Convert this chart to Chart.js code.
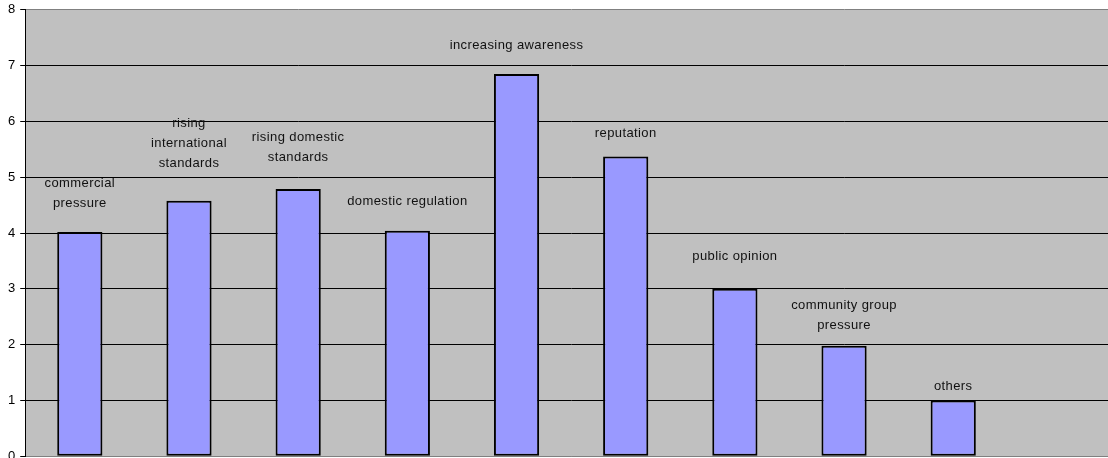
<!DOCTYPE html>
<html>
<head>
<meta charset="utf-8">
<script src="https://cdn.jsdelivr.net/npm/chart.js@4/dist/chart.umd.min.js"></script>
<style>
  html, body { margin: 0; padding: 0; background: #fff; overflow: hidden; }
  #wrap { width: 1117px; height: 472px; margin-top: -3px; }
</style>
</head>
<body>
<div id="wrap"><canvas id="drivers" width="1117" height="472"></canvas></div>
<script>
// drivers and their scores (last slot left empty)
const categories = [
  ['commercial', 'pressure'],
  ['rising', 'international', 'standards'],
  ['rising domestic', 'standards'],
  ['domestic regulation'],
  ['increasing awareness'],
  ['reputation'],
  ['public opinion'],
  ['community group', 'pressure'],
  ['others'],
  ''
];
const scores = [4.02, 4.58, 4.79, 4.04, 6.85, 5.37, 3.0, 1.98, 1.0, null];
const yTicks = [0, 1, 2, 3, 4, 5, 6, 7, 8];

// grey plot area behind the bars
const plotBackground = {
  id: 'plotBackground',
  beforeDraw(chart) {
    const { ctx, chartArea: a } = chart;
    ctx.save();
    ctx.fillStyle = '#c0c0c0';
    ctx.fillRect(a.left, a.top, a.right - a.left, a.bottom - a.top);
    ctx.restore();
  }
};

// category names written above each bar
const barCaptions = {
  id: 'barCaptions',
  afterDatasetsDraw(chart, args, opts) {
    const { ctx } = chart;
    const bars = chart.getDatasetMeta(0).data;
    ctx.save();
    ctx.font = '13px "Liberation Sans", Arial, sans-serif';
    ctx.letterSpacing = '0.4px';
    ctx.fillStyle = '#111';
    ctx.textAlign = 'center';
    ctx.textBaseline = 'middle';
    bars.forEach((bar, i) => {
      const lines = categories[i];
      if (!lines || scores[i] == null) return;
      const n = lines.length;
      lines.forEach((txt, j) => {
        const y = bar.y - opts.lift[i] - (n - 1 - j) * opts.lineHeight;
        ctx.fillText(txt, bar.x, y);
      });
    });
    ctx.restore();
  }
};

new Chart(document.getElementById('drivers'), {
  type: 'bar',
  data: {
    labels: categories,
    datasets: [{
      data: scores,
      backgroundColor: '#9999ff',
      borderColor: '#000',
      borderWidth: 2,
      borderSkipped: false,
      barPercentage: 0.414,
      categoryPercentage: 1
    }]
  },
  options: {
    responsive: false,
    animation: false,
    events: [],
    layout: { padding: { left: 3, top: 7, right: 0, bottom: 0 } },
    plugins: {
      legend: { display: false },
      tooltip: { enabled: false },
      barCaptions: { lift: [28, 37, 31, 29, 29, 23, 32, 20, 14], lineHeight: 20 }
    },
    scales: {
      x: {
        ticks: { display: false },
        grid: { display: false },
        border: { display: true, color: '#808080', width: 1 }
      },
      y: {
        min: 0,
        max: 8,
        afterBuildTicks(axis) {
          axis.ticks = yTicks.map(v => ({ value: v }));
        },
        ticks: {
          color: '#000',
          padding: 5,
          font: { family: '"Liberation Sans", Arial, sans-serif', size: 13 }
        },
        grid: {
          color: c => (c.tick && (c.tick.value === 8 || c.tick.value === 0)) ? '#808080' : '#000',
          lineWidth: 1,
          tickLength: 5,
          tickColor: '#000'
        },
        border: { display: true, color: '#000', width: 1 }
      }
    }
  },
  plugins: [plotBackground, barCaptions]
});
</script>
</body>
</html>
